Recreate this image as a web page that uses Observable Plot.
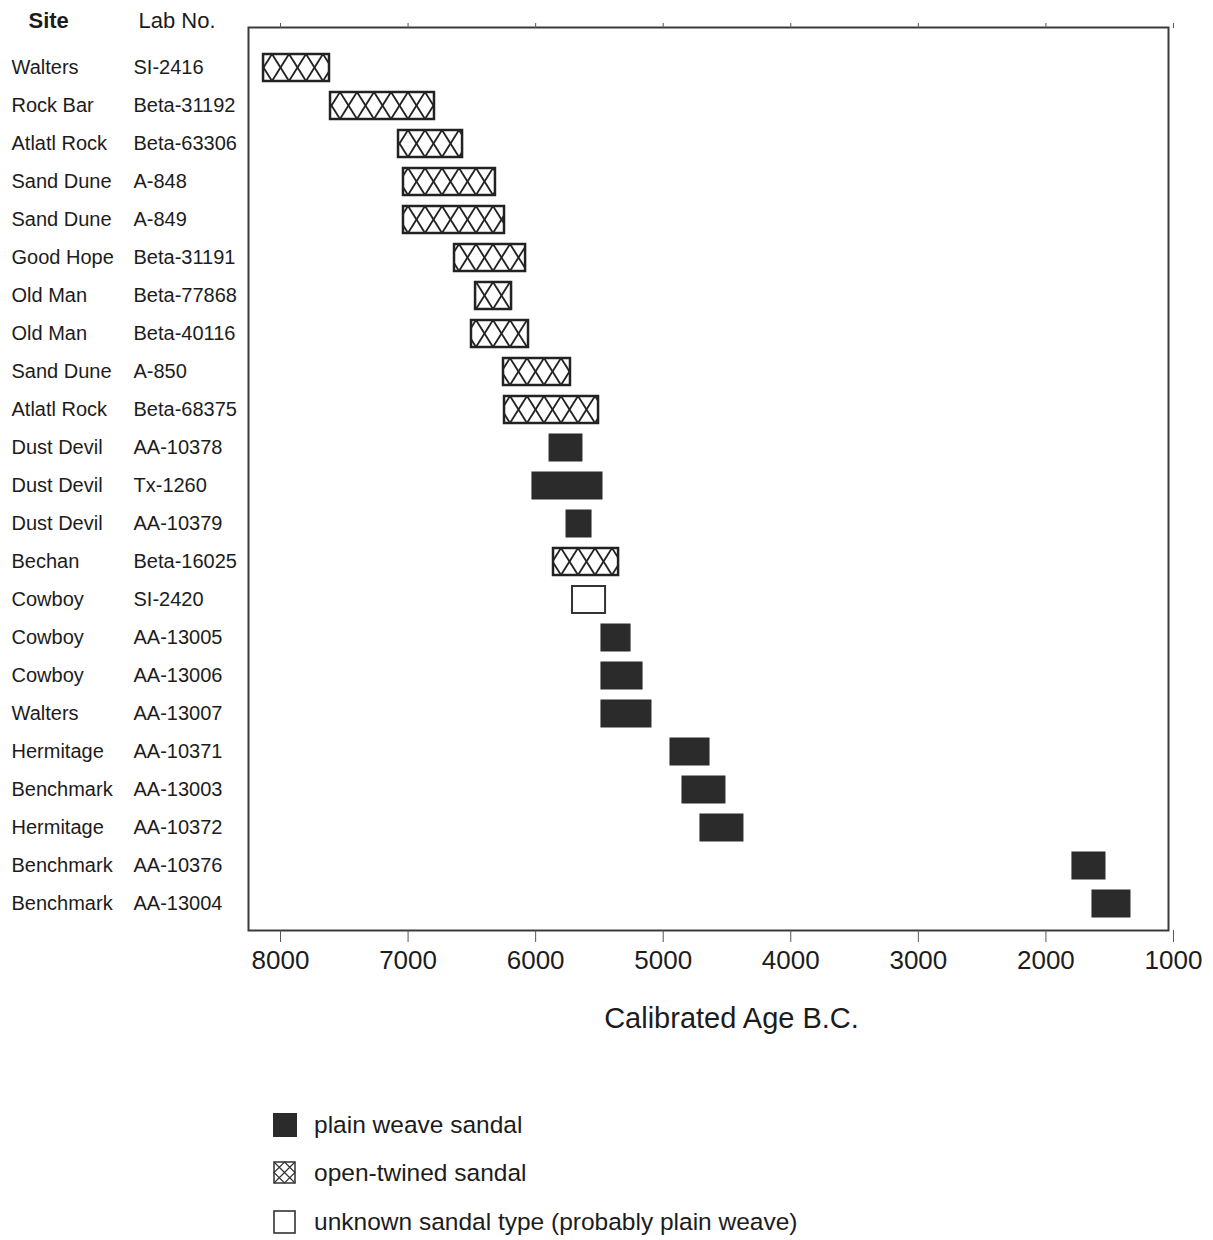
<!DOCTYPE html>
<html>
<head>
<meta charset="utf-8">
<script src="https://cdn.jsdelivr.net/npm/d3@7"></script>
<script src="https://cdn.jsdelivr.net/npm/@observablehq/plot@0.6"></script>
<style>
  body { margin: 0; background: #fff; }
  #wrap { position: relative; width: 1213px; }
  #legend { position: relative; height: 180px; color: #1a1a1a; }
  .item { position: absolute; left: 272px; display: flex; align-items: center; height: 30px; }
  .item svg { margin-right: 16px; }
</style>
</head>
<body>
<div id="wrap">
  <div id="chart"></div>
  <div id="legend"></div>
</div>
<script>
// ---- data ----
const sites = ["Walters","Rock Bar","Atlatl Rock","Sand Dune","Sand Dune","Good Hope","Old Man","Old Man","Sand Dune","Atlatl Rock","Dust Devil","Dust Devil","Dust Devil","Bechan","Cowboy","Cowboy","Cowboy","Walters","Hermitage","Benchmark","Hermitage","Benchmark","Benchmark"];
const labNos = ["SI-2416","Beta-31192","Beta-63306","A-848","A-849","Beta-31191","Beta-77868","Beta-40116","A-850","Beta-68375","AA-10378","Tx-1260","AA-10379","Beta-16025","SI-2420","AA-13005","AA-13006","AA-13007","AA-10371","AA-13003","AA-10372","AA-10376","AA-13004"];
const startBC = [8133,7608,7075,7036,7036,6636,6471,6503,6252,6244,5891,6025,5758,5860,5711,5484,5484,5484,4943,4849,4708,1792,1635];
const endBC   = [7616,6793,6573,6315,6244,6079,6189,6056,5727,5507,5633,5476,5562,5350,5452,5256,5162,5092,4637,4512,4371,1533,1337];
const sandalType = ["twined","twined","twined","twined","twined","twined","twined","twined","twined","twined","plain","plain","plain","twined","unknown","plain","plain","plain","plain","plain","plain","plain","plain"];
const xTicks = [8000,7000,6000,5000,4000,3000,2000,1000];
const legendItems = [
  {type: "plain", label: "plain weave sandal"},
  {type: "twined", label: "open-twined sandal"},
  {type: "unknown", label: "unknown sandal type (probably plain weave)"}
];
const headers = [{text: "Site"}, {text: "Lab No."}];
const axisTitle = "Calibrated Age B.C.";

const data = labNos.map((lab, i) => ({site: sites[i], lab, start: startBC[i], end: endBC[i], type: sandalType[i]}));

const FONT = '"Liberation Sans", Arial, Helvetica, sans-serif';
const INK = "#1c1c1c";

const chart = Plot.plot({
  width: 1213,
  height: 1060,
  marginLeft: 248,
  marginRight: 45,
  marginTop: 27,
  marginBottom: 130,
  style: {fontFamily: FONT, color: INK, background: "white"},
  x: {domain: [8251, 1039]},
  y: {type: "band", domain: labNos, range: [40, 930], paddingInner: 0.3, paddingOuter: 0.28, axis: null},
  marks: [
    Plot.barX(data.filter(d => d.type === "plain"), {x1: "start", x2: "end", y: "lab", fill: "#2b2b2b", stroke: "#2b2b2b", strokeWidth: 1}),
    Plot.barX(data.filter(d => d.type === "twined"), {x1: "start", x2: "end", y: "lab", fill: "url(#hatch)", stroke: "#222", strokeWidth: 2.5}),
    Plot.barX(data.filter(d => d.type === "unknown"), {x1: "start", x2: "end", y: "lab", fill: "white", stroke: "#333", strokeWidth: 2}),
    Plot.frame({stroke: "#3a3a3a", strokeWidth: 2}),
    Plot.axisX(xTicks, {anchor: "bottom", tickSize: 12, tickPadding: 8, fontSize: 26, tickFormat: "d", label: null, stroke: "#555", fill: INK}),
    Plot.axisX(xTicks, {anchor: "top", tickSize: 5, tickFormat: () => "", label: null, stroke: "#555"}),
    Plot.text([axisTitle], {text: d => d, frameAnchor: "bottom", dx: 23, dy: 88, lineAnchor: "middle", fontSize: 29, fill: INK}),
    Plot.text(data, {y: "lab", text: "site", frameAnchor: "left", dx: -237, textAnchor: "start", fontSize: 20, fill: INK}),
    Plot.text(data, {y: "lab", text: "lab", frameAnchor: "left", dx: -115, textAnchor: "start", fontSize: 20, fill: INK}),
    Plot.text(headers.slice(0, 1), {text: "text", frameAnchor: "top-left", dx: -220, dy: -7, lineAnchor: "middle", textAnchor: "start", fontSize: 22, fontWeight: "bold", fill: INK}),
    Plot.text(headers.slice(1), {text: "text", frameAnchor: "top-left", dx: -110, dy: -7, lineAnchor: "middle", textAnchor: "start", fontSize: 22, fill: INK})
  ]
});

// crosshatch pattern aligned to the band rows
const ys = chart.scale("y");
const y0 = ys.apply(labNos[0]);
const bw = ys.bandwidth;
const step = ys.step;
const defs = d3.select(chart).insert("defs", ":first-child");
const pat = defs.append("pattern").attr("id", "hatch").attr("patternUnits", "userSpaceOnUse")
  .attr("x", 0).attr("y", y0).attr("width", 17).attr("height", step);
pat.append("rect").attr("width", 17).attr("height", step).attr("fill", "white");
pat.append("line").attr("x1", 0).attr("y1", 0).attr("x2", 17).attr("y2", bw).attr("stroke", "#222").attr("stroke-width", 1.8);
pat.append("line").attr("x1", 17).attr("y1", 0).attr("x2", 0).attr("y2", bw).attr("stroke", "#222").attr("stroke-width", 1.8);

document.getElementById("chart").appendChild(chart);

// ---- legend ----
const legend = d3.select("#legend");
const centers = [1125, 1173, 1222];
legendItems.forEach((it, i) => {
  const row = legend.append("div").attr("class", "item")
    .style("top", (centers[i] - 1060 - 15) + "px");
  const sw = row.append("svg").attr("width", 26).attr("height", 26);
  if (it.type === "plain") {
    sw.append("rect").attr("x", 1).attr("y", 1).attr("width", 24).attr("height", 24).attr("fill", "#2b2b2b");
  } else if (it.type === "twined") {
    sw.append("rect").attr("x", 2).attr("y", 2).attr("width", 21).attr("height", 21).attr("fill", "white").attr("stroke", "#333").attr("stroke-width", 1.5);
    sw.append("path").attr("d", "M2,2L23,23M23,2L2,23M12.5,2L23,12.5L12.5,23L2,12.5Z").attr("fill", "none").attr("stroke", "#333").attr("stroke-width", 1.2);
  } else {
    sw.append("rect").attr("x", 2).attr("y", 2).attr("width", 21).attr("height", 22).attr("fill", "white").attr("stroke", "#333").attr("stroke-width", 1.6);
  }
  row.append("span").text(it.label)
    .style("font-family", FONT).style("font-size", "24.5px").style("color", INK);
});
</script>
</body>
</html>
